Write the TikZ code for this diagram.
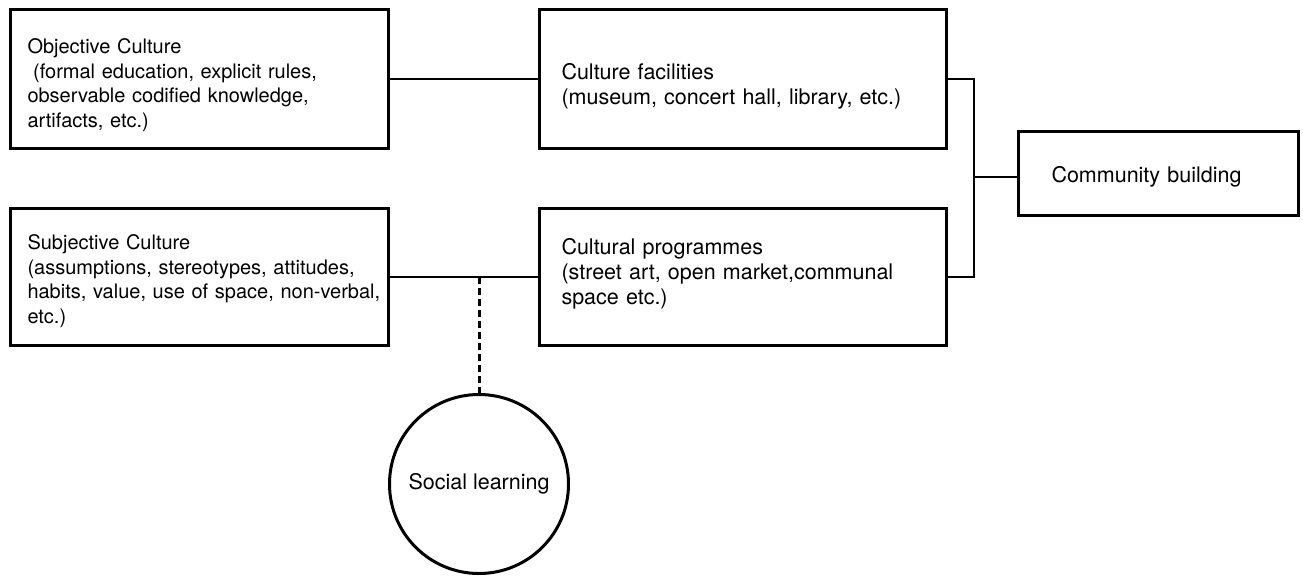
\documentclass[tikz,border=0pt]{standalone}
\usepackage{fontspec}
\setmainfont{TeX Gyre Heros}
\usepackage{tikz}

\begin{document}
\begin{tikzpicture}[x=1pt,y=-1pt,
    box_node/.style={rectangle,draw,line width=3pt,align=left,font=\fontsize{21.5}{25}\selectfont},
    left_node/.style={box_node,minimum width=378pt,inner xsep=17pt,text width=344pt,font=\fontsize{20}{24.5}\selectfont},
    mid_node/.style={box_node,minimum width=407pt,inner xsep=22pt,text width=363pt},
    circ_node/.style={circle,draw,line width=3pt,minimum size=179pt,inner sep=0pt,font=\fontsize{21.5}{25}\selectfont},
    link/.style={line width=1.5pt}]
    \useasboundingbox (0,0) rectangle (1303,578);
	\node[left_node,minimum height=139pt] (1) at (199.5,79) {\rule{0pt}{26.8pt}Objective Culture\\\hspace*{0.28em}(formal education, explicit rules,\\observable codified knowledge,\\artifacts, etc.)};
    \node[mid_node,minimum height=139pt] (2) at (743,79) {\rule{0pt}{29.8pt}Culture facilities\\(museum, concert hall, library, etc.)};
    \node[left_node,minimum height=137pt] (3) at (199.5,277) {\rule{0pt}{22.8pt}Subjective Culture\\\mbox{(assumptions, stereotypes, attitudes,}\\\mbox{habits, value, use of space, non-verbal,}\\etc.)};
    \node[mid_node,minimum height=137pt] (4) at (743,277) {Cultural programmes\\(street art, open market,communal\\space etc.)\rule[-10.5pt]{0pt}{10.5pt}};
    \node[box_node,minimum width=280pt,minimum height=84pt,inner xsep=33pt,text width=214pt] (5) at (1158.5,173.5) {\rule{0pt}{21.8pt}Community building};
    \node[circ_node] (6) at (479,484) {Social learning};
    \coordinate (bus) at (974,177);
    \coordinate (tap) at (479,277);
\draw[link] (1) -- (2);
\draw[link] (3) -- (4);
\draw[link] (2.east) -| (bus) |- (4.east);
\draw[link] (bus) -- (bus -| 5.west);
\draw[line width=3pt,dash pattern=on 7pt off 4pt] (tap) -- (6);
\end{tikzpicture}
\end{document}
